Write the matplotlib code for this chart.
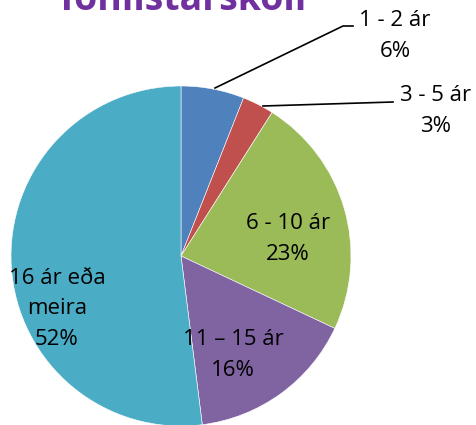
import matplotlib.pyplot as plt

# data
labels  = ['1 - 2 ár', '3 - 5 ár', '6 - 10 ár', '11 – 15 ár', '16 ár eða\nmeira']
values  = [6, 3, 23, 16, 52]
colors  = ['#4F81BD', '#C0504D', '#9BBB59', '#8064A2', '#4BACC6']
title   = 'Tónlistarskóli'

plt.rcParams['font.family'] = ['Open Sans', 'DejaVu Sans']
fontsize = 16
lsp      = 1.6

fig = plt.figure(figsize=(4.77, 4.25), dpi=100)
ax  = fig.add_axes([0, 0, 1, 1])

cx, cy, r = 181, 425 - 256, 170
wedges, _ = ax.pie(values, colors=colors, startangle=90, counterclock=False,
                   center=(cx, cy), radius=r, frame=True,
                   wedgeprops=dict(edgecolor='white', linewidth=0.4))
ax.set_xlim(0, 477)
ax.set_ylim(0, 425)
ax.set_aspect('equal')
ax.axis('off')

# inside labels
inside = {2: (288, 425 - 239), 3: (233, 425 - 355), 4: (57, 425 - 309)}
for i, (x, y) in inside.items():
    ax.text(x, y, '%s\n%d%%' % (labels[i], values[i]), ha='center', va='center',
            fontsize=fontsize, linespacing=lsp)

# outside labels with leader lines
ax.plot([215, 343, 353], [425 - 88, 425 - 26, 425 - 26], color='black', lw=1.2)
ax.text(395, 425 - 36, '%s\n%d%%' % (labels[0], values[0]), ha='center', va='center',
        fontsize=fontsize, linespacing=lsp)
ax.plot([263, 393], [425 - 106, 425 - 102], color='black', lw=1.2)
ax.text(436, 425 - 111, '%s\n%d%%' % (labels[1], values[1]), ha='center', va='center',
        fontsize=fontsize, linespacing=lsp)

# clipped title
ax.text(181, 425 - 10, title, ha='center', va='baseline', fontsize=27,
        fontweight='bold', color='#7030A0')

plt.savefig('out.png', dpi=100)
